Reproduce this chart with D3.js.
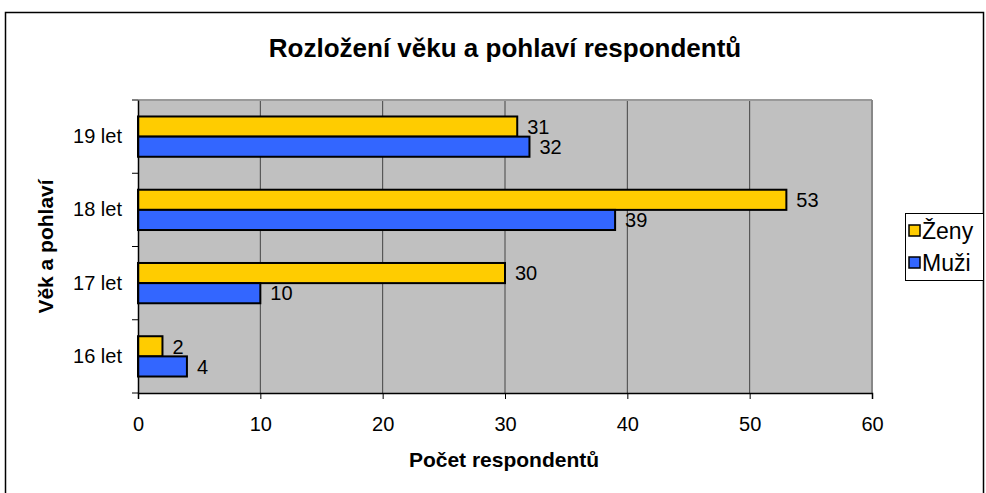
<!DOCTYPE html>
<html>
<head>
<meta charset="utf-8">
<script src="https://cdn.jsdelivr.net/npm/d3@7"></script>
<style>
  body { margin: 0; background: #fff; }
  text { font-family: "Liberation Sans", Arial, sans-serif; }
</style>
</head>
<body>
<div id="chart"></div>
<script>
// data
const categories = ["19 let", "18 let", "17 let", "16 let"];
const seriesNames = ["Ženy", "Muži"];
const zeny = [31, 53, 30, 2];
const muzi = [32, 39, 10, 4];
const xTicks = [0, 10, 20, 30, 40, 50, 60];

const colors = {"Ženy": "#FFCC00", "Muži": "#3366FF"};

const W = 986, H = 493;
const margin = {top: 100, right: 114, bottom: 100, left: 138};
const width = W - margin.left - margin.right,
      height = H - margin.top - margin.bottom;

const root = d3.select("#chart").append("svg")
    .attr("width", W)
    .attr("height", H);

// outer frame
root.append("rect")
    .attr("x", 5.5).attr("y", 12.5)
    .attr("width", 978).attr("height", 500)
    .attr("fill", "#fff")
    .attr("stroke", "#000")
    .attr("stroke-width", 1.5);

const svg = root.append("g")
    .attr("transform", `translate(${margin.left}, ${margin.top})`);

const x = d3.scaleLinear().domain([0, 60]).range([0, width]);
const y = d3.scaleBand().domain(categories).range([0, height]).padding(0);
const ySub = d3.scaleBand().domain(seriesNames)
    .range([y.bandwidth() * 0.225, y.bandwidth() * 0.775]);

// plot background
svg.append("rect")
    .attr("width", width).attr("height", height)
    .attr("fill", "#C0C0C0");

// grid
svg.selectAll("grid")
    .data(xTicks.slice(1, -1))
    .enter().append("line")
    .attr("x1", d => x(d)).attr("x2", d => x(d))
    .attr("y1", 0).attr("y2", height)
    .attr("stroke", "#444").attr("stroke-width", 1);

// plot border top/right
svg.append("line").attr("x1", 0).attr("x2", width).attr("y1", 0).attr("y2", 0)
    .attr("stroke", "#999").attr("stroke-width", 2);
svg.append("line").attr("x1", width).attr("x2", width).attr("y1", 0).attr("y2", height)
    .attr("stroke", "#888").attr("stroke-width", 2);

// bars
const rows = [];
categories.forEach((c, i) => {
  rows.push({cat: c, s: "Ženy", v: zeny[i]});
  rows.push({cat: c, s: "Muži", v: muzi[i]});
});

svg.selectAll("bar")
    .data(rows)
    .enter().append("rect")
    .attr("x", 0)
    .attr("y", d => y(d.cat) + ySub(d.s))
    .attr("width", d => x(d.v))
    .attr("height", ySub.bandwidth())
    .attr("fill", d => colors[d.s])
    .attr("stroke", "#000")
    .attr("stroke-width", 2);

svg.selectAll("vlabel")
    .data(rows)
    .enter().append("text")
    .attr("x", d => x(d.v) + 10)
    .attr("y", d => y(d.cat) + ySub(d.s) + ySub.bandwidth() / 2)
    .attr("dy", "0.36em")
    .style("font-size", "20px")
    .text(d => d.v);

// axes
const xAxis = svg.append("g")
    .attr("transform", `translate(0, ${height})`)
    .call(d3.axisBottom(x).tickValues(xTicks).tickSize(6).tickPadding(18));
const yAxis = svg.append("g")
    .call(d3.axisLeft(y).tickSize(0).tickPadding(16));
// y ticks between bands
svg.selectAll("ytick")
    .data(d3.range(categories.length + 1))
    .enter().append("line")
    .attr("x1", -6).attr("x2", 0)
    .attr("y1", d => d * y.step()).attr("y2", d => d * y.step())
    .attr("stroke", "#000");

[xAxis, yAxis].forEach(a => {
  a.select(".domain").attr("stroke", "#000").attr("stroke-width", 1.5);
  a.selectAll("text").style("font-size", "20px").attr("fill", "#000")
      .style("font-family", "'Liberation Sans', Arial, sans-serif");
});

// titles
root.append("text")
    .attr("x", 505).attr("y", 57)
    .attr("text-anchor", "middle")
    .style("font-size", "26px").style("font-weight", "bold")
    .text("Rozložení věku a pohlaví respondentů");

root.append("text")
    .attr("x", margin.left + width / 2 - 1).attr("y", 467)
    .attr("text-anchor", "middle")
    .style("font-size", "21px").style("font-weight", "bold")
    .text("Počet respondentů");

root.append("text")
    .attr("transform", `translate(53, ${margin.top + height / 2}) rotate(-90)`)
    .attr("text-anchor", "middle")
    .style("font-size", "21px").style("font-weight", "bold")
    .text("Věk a pohlaví");

// legend
const lg = root.append("g").attr("transform", "translate(905, 213)");
lg.append("rect")
    .attr("x", 0.5).attr("y", 0.5).attr("width", 78).attr("height", 67)
    .attr("fill", "#fff").attr("stroke", "#000").attr("stroke-width", 1);
seriesNames.forEach((s, i) => {
  lg.append("rect")
      .attr("x", 4).attr("y", 12 + i * 32)
      .attr("width", 11).attr("height", 11)
      .attr("fill", colors[s]).attr("stroke", "#000").attr("stroke-width", 1.5);
  lg.append("text")
      .attr("x", 17).attr("y", 18 + i * 32)
      .attr("dy", "0.36em")
      .style("font-size", "23px")
      .text(s);
});
</script>
</body>
</html>
